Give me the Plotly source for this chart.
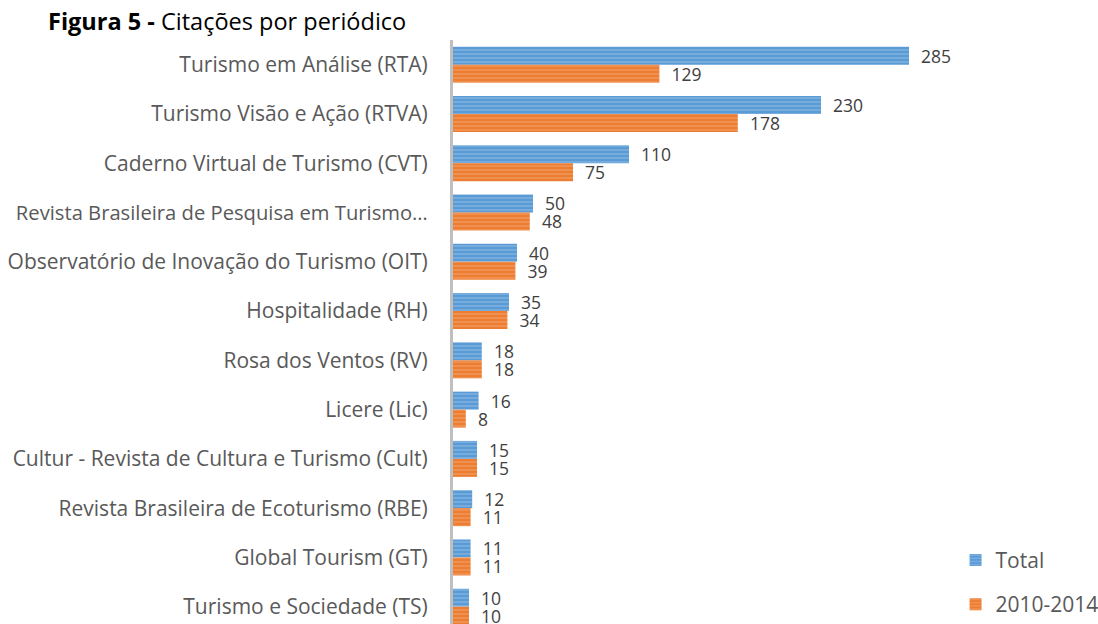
import plotly.graph_objects as go

categories = [
    "Turismo em Análise (RTA)",
    "Turismo Visão e Ação (RTVA)",
    "Caderno Virtual de Turismo (CVT)",
    "Revista Brasileira de Pesquisa em Turismo…",
    "Observatório de Inovação do Turismo (OIT)",
    "Hospitalidade (RH)",
    "Rosa dos Ventos (RV)",
    "Licere (Lic)",
    "Cultur - Revista de Cultura e Turismo (Cult)",
    "Revista Brasileira de Ecoturismo (RBE)",
    "Global Tourism (GT)",
    "Turismo e Sociedade (TS)",
]
total = [285, 230, 110, 50, 40, 35, 18, 16, 15, 12, 11, 10]
recent = [129, 178, 75, 48, 39, 34, 18, 8, 15, 11, 11, 10]
series_names = ["Total", "2010-2014"]

FONT = "Open Sans"
fig = go.Figure()
fig.add_trace(go.Bar(
    y=categories, x=total, orientation="h", name=series_names[0],
    legendgroup=series_names[0],
    marker=dict(color="#5B9BD5", line=dict(width=0),
                pattern=dict(shape="-", fgcolor="#A9CBEB", size=4, solidity=0.35)),
    text=[str(v) for v in total], textposition="outside", constraintext="none",
    texttemplate="  %{text}", textfont=dict(family=FONT, size=17.5, color="#404040"),
    cliponaxis=False,
))
fig.add_trace(go.Bar(
    y=categories, x=recent, orientation="h", name=series_names[1],
    legendgroup=series_names[1],
    marker=dict(color="#ED7D31", line=dict(width=0),
                pattern=dict(shape="-", fgcolor="#F6B48A", size=4, solidity=0.35)),
    text=[str(v) for v in recent], textposition="outside", constraintext="none",
    texttemplate="  %{text}", textfont=dict(family=FONT, size=17.5, color="#404040"),
    cliponaxis=False,
))

# tick text: the long truncated label is drawn slightly condensed to fit like the original
ticktext = [
    '<span style="font-size:20.2px">' + c + "</span>" if c.endswith("…") else c
    for c in categories
]

fig.update_layout(
    width=1098, height=624,
    margin=dict(l=453, r=69, t=40, b=0, autoexpand=False),
    paper_bgcolor="white", plot_bgcolor="white",
    barmode="group", bargap=0.27, bargroupgap=0,
    font=dict(family=FONT, color="#595959"),
    title=dict(text="<b>Figura 5 -</b> Citações por periódico",
               x=48/1098, xanchor="left", y=1-22/624, yanchor="middle",
               font=dict(family=FONT, size=23.5, color="#000000")),
    xaxis=dict(range=[0, 360], visible=False, showgrid=False, zeroline=False),
    yaxis=dict(range=[11.35, -0.5], showline=True, linecolor="#BFBFBF", linewidth=3,
               ticks="", showgrid=False, ticklabelstandoff=18, automargin=False,
               tickmode="array", tickvals=categories, ticktext=ticktext,
               tickfont=dict(family=FONT, size=21, color="#595959")),
    legend=dict(xref="paper", yref="paper", x=958/1098, y=1-534/624,
                xanchor="left", yanchor="top",
                font=dict(family=FONT, size=21, color="#595959"),
                tracegroupgap=14, traceorder="grouped", bgcolor="rgba(0,0,0,0)",
                itemwidth=30),
    showlegend=True,
)

fig.write_html("out.html", config={"displayModeBar": False},
               post_script="document.body.style.margin='0';")
